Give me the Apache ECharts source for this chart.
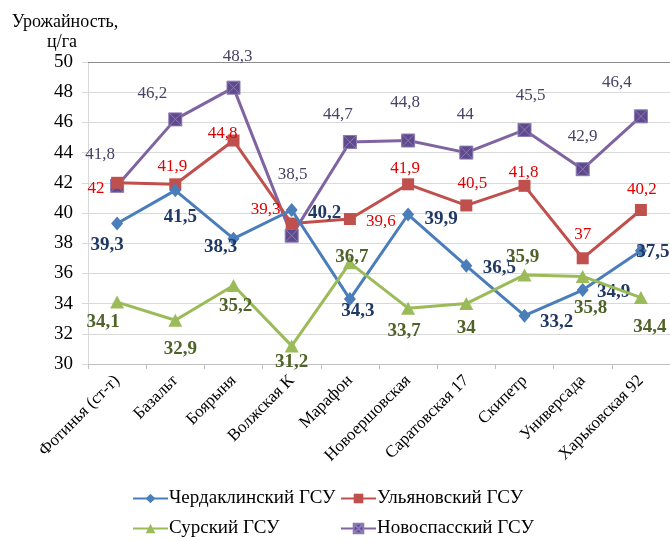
<!DOCTYPE html>
<html><head><meta charset="utf-8">
<script src="https://cdn.jsdelivr.net/npm/echarts@6/dist/echarts.min.js"></script>
<style>html,body{margin:0;padding:0;background:#fff}#c{width:670px;height:541px}</style>
</head><body><div id="c"></div>
<script>
var categories = ['Фотинья (ст-т)','Базальт','Боярыня','Волжская К','Марафон','Новоершовская','Саратовская 17','Скипетр','Универсада','Харьковская 92'];
var seriesNames = ['Чердаклинский ГСУ','Ульяновский ГСУ','Сурский ГСУ','Новоспасский ГСУ'];
var cherdaklinsky = [39.3, 41.5, 38.3, 40.2, 34.3, 39.9, 36.5, 33.2, 34.9, 37.5];
var ulyanovsky    = [42, 41.9, 44.8, 39.3, 39.6, 41.9, 40.5, 41.8, 37, 40.2];
var sursky        = [34.1, 32.9, 35.2, 31.2, 36.7, 33.7, 34, 35.9, 35.8, 34.4];
var novospassky   = [41.8, 46.2, 48.3, 38.5, 44.7, 44.8, 44, 45.5, 42.9, 46.4];
var yTicks = {min: 30, max: 50, interval: 2};

// label placement (pixel offsets from the point)
var offCherd = [[-10,22],[5,27],[-13,8],[33,3],[8,12],[33,5],[33,2],[32,6],[31,2],[12,1]];
var offUlyan = [[-21,6],[-3,-18],[-11,-7],[-26,-14],[31,2],[-3,-16],[6,-22],[-1,-13],[0,-24],[1,-20]];
var offSursk = [[-14,20],[5,29],[2,21],[0,16],[2,-6],[-4,23],[0,24],[-2,-18],[8,32],[9,30]];
var offNovos = [[-17,-31],[-23,-26],[4,-31],[1,-61],[-12,-27],[-3,-38],[-1,-38],[6,-34],[0,-33],[-24,-34]];
// legend placement: [left, top] per series
var legendPos = [[127,484],[335,484],[127,514],[335,514]];

var FONT = 'Liberation Serif';
function fmt(v){ return String(v).replace('.', ','); }
function mk(vals, offs){ return vals.map(function(v,i){ return {value:v, label:{offset:offs[i]}}; }); }

var legends = seriesNames.map(function(n, i){
  return {orient:'horizontal', left:legendPos[i][0], top:legendPos[i][1], itemWidth:35, itemHeight:12,
          data:[n], textStyle:{fontFamily:FONT, fontSize:19, color:'#000', padding:[0,0,0,-4]}};
});

var chart = echarts.init(document.getElementById('c'));
chart.setOption({
  animation: false,
  textStyle: {fontFamily: FONT},
  grid: {left: 88, right: 0, top: 62, bottom: 177},
  graphic: [
    {type:'text', x:65, y:22, style:{text:'Урожайность,', font:'18px "Liberation Serif"', fill:'#000', align:'center', verticalAlign:'middle'}},
    {type:'text', x:62, y:42, style:{text:'ц/га', font:'18px "Liberation Serif"', fill:'#000', align:'center', verticalAlign:'middle'}}
  ],
  legend: legends,
  xAxis: [{
    type:'category', data: categories, boundaryGap:true,
    axisLine:{lineStyle:{color:'#BFBFBF', width:1}},
    axisTick:{show:true, length:5, lineStyle:{color:'#BFBFBF'}},
    axisLabel:{rotate:45, fontFamily:FONT, fontSize:17, color:'#000', margin:14, interval:0}
  },{
    type:'category', data: categories, position:'top',
    axisLine:{lineStyle:{color:'#8C8C8C', width:1}}, axisTick:{show:false}, axisLabel:{show:false}
  }],
  yAxis: {
    type:'value', min:yTicks.min, max:yTicks.max, interval:yTicks.interval,
    axisLine:{show:true, lineStyle:{color:'#D9D9D9'}},
    axisTick:{show:true, length:6, lineStyle:{color:'#D9D9D9'}},
    splitLine:{lineStyle:{color:'#D9D9D9'}},
    axisLabel:{fontFamily:FONT, fontSize:19, color:'#000', margin:15}
  },
  series: [
    {name:seriesNames[0], type:'line', data:mk(cherdaklinsky, offCherd), z:3,
     symbol:'diamond', symbolSize:[12,14], itemStyle:{color:'#4A7EBB'},
     lineStyle:{color:'#4A7EBB', width:3},
     label:{show:true, position:'inside', formatter:function(p){return fmt(p.value);}, fontFamily:FONT, fontSize:19, fontWeight:'bold', color:'#1F3864'}},
    {name:seriesNames[1], type:'line', data:mk(ulyanovsky, offUlyan), z:2,
     symbol:'rect', symbolSize:12, itemStyle:{color:'#C0504D'},
     lineStyle:{color:'#C0504D', width:3},
     label:{show:true, position:'inside', formatter:function(p){return fmt(p.value);}, fontFamily:FONT, fontSize:17, color:'#E00000'}},
    {name:seriesNames[2], type:'line', data:mk(sursky, offSursk), z:4,
     symbol:'triangle', symbolSize:[14,13], itemStyle:{color:'#9BBB59'},
     lineStyle:{color:'#9BBB59', width:3},
     label:{show:true, position:'inside', formatter:function(p){return fmt(p.value);}, fontFamily:FONT, fontSize:19, fontWeight:'bold', color:'#4F6228'}},
    {name:seriesNames[3], type:'line', data:mk(novospassky, offNovos), z:1,
     symbol:'path://M0,0L12,0L12,12L0,12Z M0,0L12,12 M12,0L0,12', symbolSize:13,
     itemStyle:{color:'#5F4A8B', borderColor:'#8C7AB5', borderWidth:1},
     lineStyle:{color:'#8064A2', width:3},
     label:{show:true, position:'inside', formatter:function(p){return fmt(p.value);}, fontFamily:FONT, fontSize:17, color:'#4A4266'}}
  ]
});
</script></body></html>
